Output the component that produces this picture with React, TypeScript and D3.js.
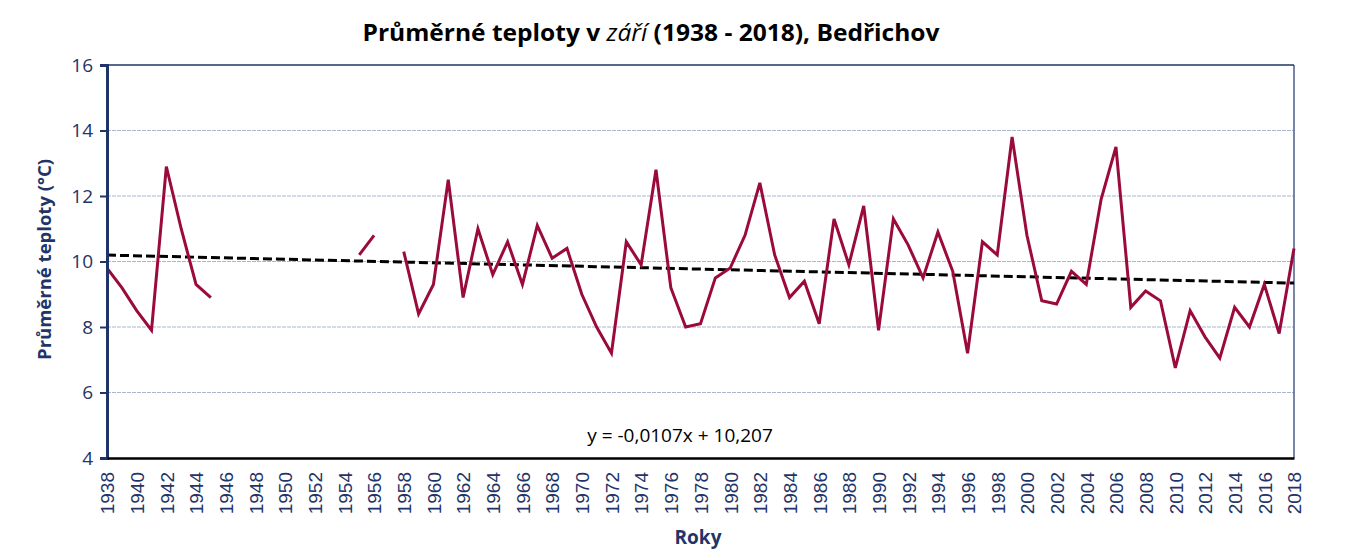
import React, { useEffect, useRef } from 'react';
import * as d3 from 'd3';

// Průměrné zářijové teploty, Bedřichov (null = chybí měření)
const years: number[] = d3.range(1938, 2019);
const temps: (number | null)[] = [
  9.8, 9.2, 8.5, 7.9, 12.9, 11.0, 9.3, 8.9, // 1938-1945
  null, null, null, null, null, null, null, null, null, // 1946-1954
  10.2, 10.8, null, // 1955-1957
  10.3, 8.4, 9.3, 12.5, 8.9, 11.0, 9.6, 10.6, 9.3, 11.1, 10.1, 10.4, // 1958-1969
  9.0, 8.0, 7.2, 10.6, 9.9, 12.8, 9.2, 8.0, 8.1, 9.5, // 1970-1979
  9.8, 10.8, 12.4, 10.2, 8.9, 9.4, 8.1, 11.3, 9.9, 11.7, // 1980-1989
  7.9, 11.3, 10.5, 9.5, 10.9, 9.7, 7.2, 10.6, 10.2, 13.8, // 1990-1999
  10.8, 8.8, 8.7, 9.7, 9.3, 11.9, 13.5, 8.6, 9.1, 8.8, // 2000-2009
  6.75, 8.5, 7.7, 7.05, 8.6, 8.0, 9.3, 7.8, 10.4, // 2010-2018
];
const yTicks: number[] = [4, 6, 8, 10, 12, 14, 16];
const xTickYears: number[] = d3.range(1938, 2019, 2);
const trendSlope = -0.0107;
const trendIntercept = 10.207;

const NAVY = '#1f3468';
const LINE = '#9b0a3c';
const FONT = '"Open Sans", sans-serif';

const App = () => {
  const svgRef = useRef<SVGSVGElement>(null);

  useEffect(() => {
    const svg = d3.select(svgRef.current);
    svg.selectAll('*').remove();

    const width = 1345;
    const height = 550;
    const margin = { top: 65, right: 51, bottom: 92, left: 107 };
    const innerW = width - margin.left - margin.right;
    const innerH = height - margin.top - margin.bottom;

    const x = d3.scaleLinear().domain([1938, 2018]).range([margin.left, margin.left + innerW]);
    const y = d3.scaleLinear().domain([4, 16]).range([margin.top + innerH, margin.top]);

    // title
    const title = svg.append('text')
      .attr('x', 651)
      .attr('y', 41)
      .attr('text-anchor', 'middle')
      .attr('font-family', FONT)
      .attr('font-size', 24)
      .attr('font-weight', 'bold')
      .attr('fill', '#000')
      .attr('textLength', 577)
      .attr('lengthAdjust', 'spacingAndGlyphs');
    title.append('tspan').text('Průměrné teploty v ');
    title.append('tspan').attr('font-style', 'italic').attr('font-weight', 'normal').text('září');
    title.append('tspan').text(' (1938 - 2018), Bedřichov');

    // gridlines
    svg.append('g')
      .selectAll('line')
      .data(yTicks.filter(t => t > 4 && t < 16))
      .enter()
      .append('line')
      .attr('x1', x(1938))
      .attr('x2', x(2018))
      .attr('y1', d => y(d))
      .attr('y2', d => y(d))
      .attr('stroke', '#aab5cf')
      .attr('stroke-width', 1)
      .attr('stroke-dasharray', '4 1');

    // frame top / right
    svg.append('line')
      .attr('x1', x(1938)).attr('x2', x(2018))
      .attr('y1', y(16)).attr('y2', y(16))
      .attr('stroke', NAVY).attr('stroke-width', 1.5);
    svg.append('line')
      .attr('x1', x(2018)).attr('x2', x(2018))
      .attr('y1', y(16)).attr('y2', y(4))
      .attr('stroke', NAVY).attr('stroke-width', 1.2);

    // trend line
    const idx = (yr: number) => yr - 1938 + 1;
    svg.append('line')
      .attr('x1', x(1938))
      .attr('x2', x(2018))
      .attr('y1', y(trendSlope * idx(1938) + trendIntercept))
      .attr('y2', y(trendSlope * idx(2018) + trendIntercept))
      .attr('stroke', '#000')
      .attr('stroke-width', 3)
      .attr('stroke-dasharray', '9 4');

    // data line
    const points = years.map((yr, i) => ({ yr, v: temps[i] }));
    const line = d3.line<{ yr: number; v: number | null }>()
      .defined(d => d.v !== null)
      .x(d => x(d.yr))
      .y(d => y(d.v as number));
    svg.append('path')
      .datum(points)
      .attr('d', line)
      .attr('fill', 'none')
      .attr('stroke', LINE)
      .attr('stroke-width', 3)
      .attr('stroke-linejoin', 'miter');

    // y axis
    const yAxis = svg.append('g')
      .attr('transform', `translate(${margin.left},0)`)
      .call(d3.axisLeft(y).tickValues(yTicks).tickSize(7).tickPadding(7).tickFormat(d3.format('d')));
    yAxis.select('.domain').attr('stroke', NAVY).attr('stroke-width', 3);
    yAxis.selectAll('.tick line').attr('stroke', NAVY).attr('stroke-width', 2);
    yAxis.selectAll('.tick text')
      .attr('fill', NAVY)
      .attr('font-family', FONT)
      .attr('font-size', 19);

    // x axis
    const xAxis = svg.append('g')
      .attr('transform', `translate(0,${margin.top + innerH})`)
      .call(d3.axisBottom(x).tickValues(xTickYears).tickSize(0).tickFormat(d3.format('d')));
    xAxis.select('.domain').attr('stroke', '#000').attr('stroke-width', 2.5);
    xAxis.selectAll('.tick text')
      .attr('fill', NAVY)
      .attr('font-family', '"Liberation Sans", Arial, sans-serif')
      .attr('font-size', 19)
      .attr('text-anchor', 'end')
      .attr('transform', 'rotate(-90)')
      .attr('x', -14)
      .attr('y', 0)
      .attr('dy', '0.36em');

    // trend equation
    svg.append('text')
      .attr('x', 680)
      .attr('y', 442)
      .attr('text-anchor', 'middle')
      .attr('font-family', FONT)
      .attr('font-size', 19)
      .attr('fill', '#000')
      .text('y = -0,0107x + 10,207');

    // axis titles
    svg.append('text')
      .attr('transform', `translate(51,${margin.top + innerH / 2 - 2}) rotate(-90)`)
      .attr('text-anchor', 'middle')
      .attr('font-family', FONT)
      .attr('font-size', 18.5)
      .attr('font-weight', 'bold')
      .attr('fill', NAVY)
      .text('Průměrné teploty (°C)');

    svg.append('text')
      .attr('x', 698)
      .attr('y', 544)
      .attr('text-anchor', 'middle')
      .attr('font-family', FONT)
      .attr('font-size', 19)
      .attr('font-weight', 'bold')
      .attr('fill', NAVY)
      .text('Roky');
  }, []);

  return (
    <svg
      ref={svgRef}
      width={1345}
      height={550}
      style={{ position: 'absolute', left: 0, top: 0, background: '#fff' }}
    />
  );
};

export default App;
